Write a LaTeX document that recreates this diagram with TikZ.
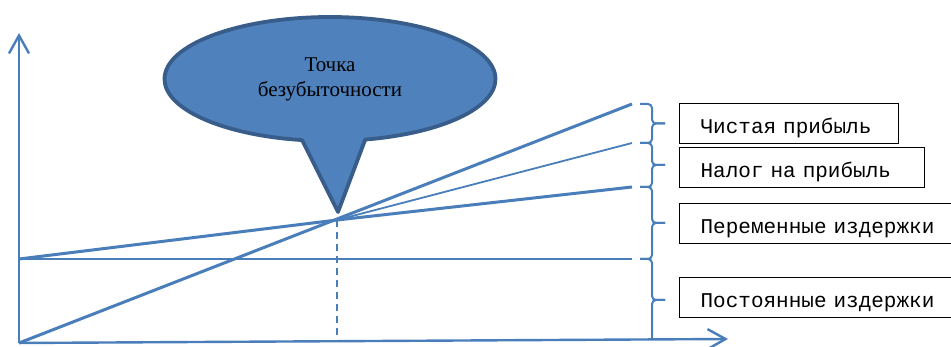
\documentclass[tikz,border=0pt]{standalone}
\usepackage{fontspec}
\setmainfont{Liberation Serif}
\newfontfamily\legendfont{Liberation Mono}
\usetikzlibrary{arrows.meta, shapes.callouts, calc}
\definecolor{chartblue}{HTML}{4A7EBB}
\definecolor{bubblefill}{HTML}{4F81BD}
\definecolor{bubbleedge}{HTML}{385D8A}

\begin{document}
\begin{tikzpicture}[x=1pt, y=-1pt,
  axis/.style={chartblue, line width=2.4pt, -{Straight Barb[length=18pt, width=20pt]}},
  chart/.style={chartblue, line width=3pt},
  thinchart/.style={chartblue, line width=1.8pt},
  bracket/.style={chartblue, line width=2pt, rounded corners=4pt},
  legend/.style={draw=black, line width=1.2pt, fill=white, minimum height=40pt,
    inner xsep=21pt, text height=20pt, text depth=0pt, align=left,
    font=\legendfont\fontsize{21}{25}\selectfont},
  bubble/.style={ellipse callout, draw=bubbleedge, line width=3.8pt, fill=bubblefill,
    minimum width=331pt, minimum height=124pt, callout pointer arc=22, line join=round,
    align=center, font=\fontsize{21}{25}\selectfont}]
\useasboundingbox (0,0) rectangle (951,347);
\clip (0,0) rectangle (951,347);

% Axes
\coordinate (O) at (19,343);
\coordinate (ytip) at (19,33);
\coordinate (xtip) at (728,339);
\draw[axis] (O) -- (ytip);
\draw[axis] (O) -- (xtip);

% Lines
\coordinate (BE) at (337,220);
\coordinate (rev) at (632,104);
\coordinate (tax) at (632,143);
\coordinate (tc0) at (19,259);
\coordinate (tc) at (632,187);
\coordinate (fc) at (632,259);
\coordinate (BEx) at (337,341);
\draw[chart] (O) -- (rev);
\draw[thinchart] (BE) -- (tax);
\draw[chart] (tc0) -- (BE) -- (tc);
\draw[chartblue, line width=2.6pt] (tc0) -- (fc);
\draw[chartblue, line width=1.6pt, dash pattern=on 7pt off 5pt] (BE) -- (BEx);

% Brackets
\foreach \a/\b in {104/143, 143/187, 187/259} {
  \draw[bracket] (640,\a) -- (652,\a) -- (652,{(\a+\b)/2}) -- (665,{(\a+\b)/2});
  \draw[bracket] (665,{(\a+\b)/2}) -- (652,{(\a+\b)/2}) -- (652,\b) -- (640,\b);
}
\draw[bracket] (640,259) -- (652,259) -- (652,300) -- (665,300);
\draw[bracket] (665,300) -- (652,300) -- (652,340);

% Legend boxes
\node[legend, text width=177pt, anchor=north west] (net) at (679,103) {Чистая прибыль};
\node[legend, text width=203pt, anchor=north west] (taxbox) at (679,147) {Налог на прибыль};
\node[legend, text width=250pt, anchor=north west] (var) at (679,203) {Переменные издержки};
\node[legend, text width=250pt, anchor=north west] (fix) at (679,277) {Постоянные издержки};

% Callout
\node[bubble, callout absolute pointer={(338,212)}] (point) at (330,79) {Точка\\безубыточности};
\end{tikzpicture}
\end{document}
